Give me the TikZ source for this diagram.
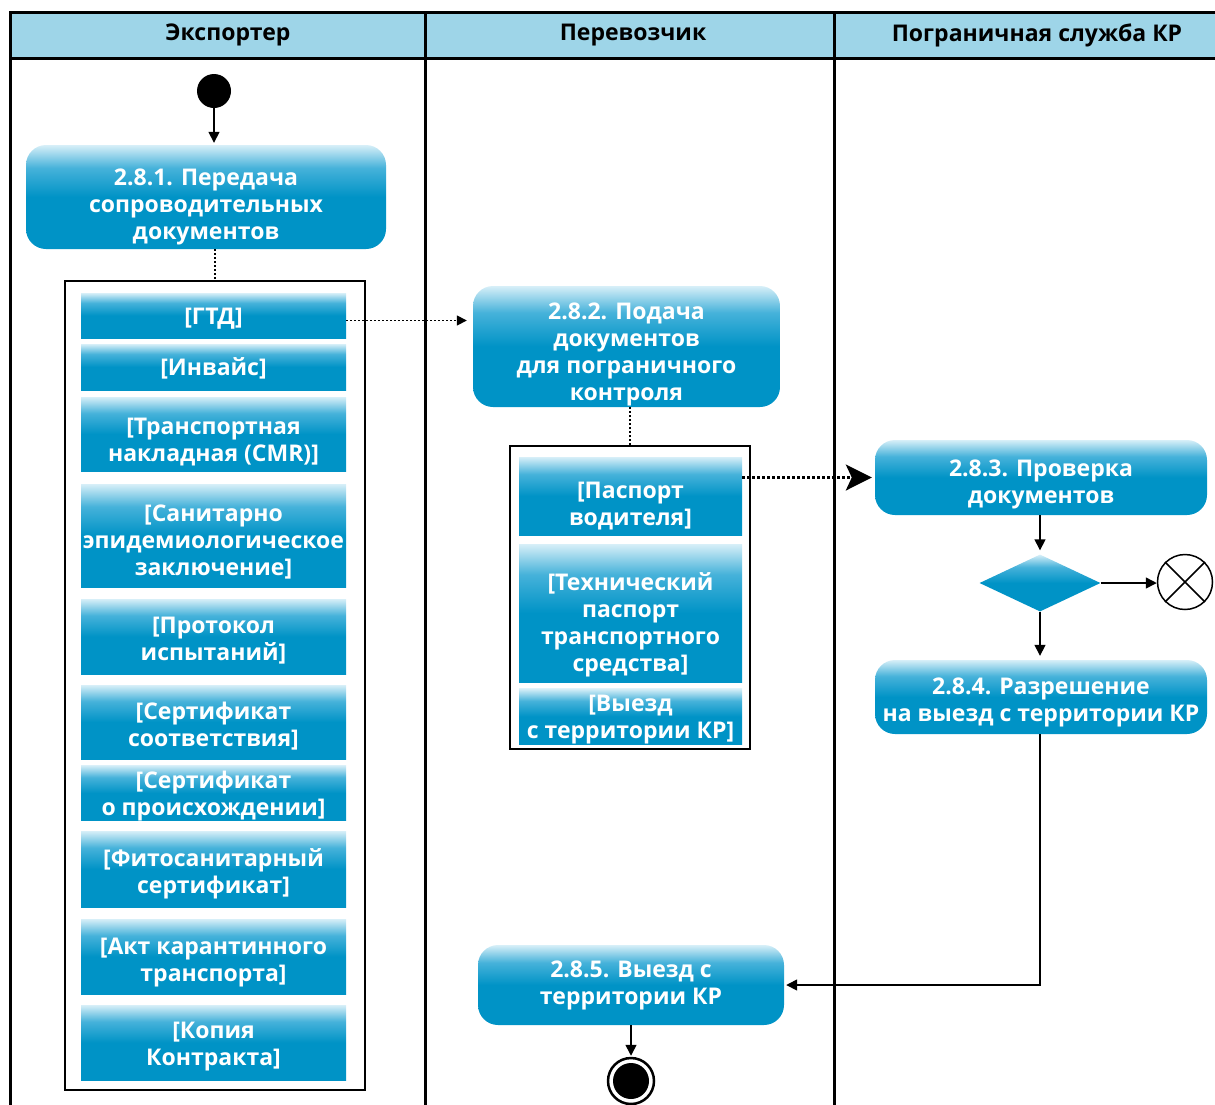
\documentclass[tikz,border=0pt]{standalone}
\usepackage{fontspec}
\setmainfont{Open Sans}
\usetikzlibrary{arrows.meta,shapes.geometric}
\definecolor{bdark}{RGB}{0,147,198}
\definecolor{bmid}{RGB}{70,178,218}
\definecolor{blight}{RGB}{215,239,248}
\definecolor{hdr}{RGB}{158,213,232}
\pgfdeclareverticalshading{boxshade}{100bp}{color(0bp)=(bdark); color(25bp)=(bdark); color(50bp)=(bdark); color(64bp)=(bmid); color(75bp)=(blight); color(100bp)=(blight)}
\newcommand\sh[1]{\rule{0pt}{\dimexpr17pt+#1pt*2\relax}}
\tikzset{
  act/.style={shading=boxshade, rounded corners=20pt, draw=none, text=white,
    font=\bfseries\fontsize{23}{27}\selectfont, align=center, inner sep=0pt},
  doc/.style={shading=boxshade, draw=none, text=white,
    font=\bfseries\fontsize{23}{27}\selectfont, align=center, inner sep=0pt, minimum width=265pt},
  doc2/.style={doc, minimum width=223pt},
  cont/.style={draw=black, line width=1.5pt, fill=none, inner sep=0pt},
  lane/.style={line width=3pt},
  hdrtext/.style={font=\bfseries\fontsize{23}{27}\selectfont, text=black},
  flow/.style={line width=1.5pt, -{Triangle[width=11pt,length=11pt]}},
  dotl/.style={line width=1.5pt, dash pattern=on 2pt off 2pt},
  dotarr/.style={dotl, -{Triangle[width=10pt,length=10pt]}},
  bigdot/.style={line width=2.6pt, dash pattern=on 2.6pt off 2.4pt, -{Stealth[width=26pt,length=26pt,inset=6pt]}},
}
\begin{document}
\begin{tikzpicture}[x=1pt,y=-1pt]
\useasboundingbox (0,0) rectangle (1215,1104);
% swimlane frame
\fill[hdr] (10,12) rectangle (1220,58);
\draw[lane] (1220,12) -- (10,12) -- (10,1110);
\draw[lane] (10,58) -- (1220,58);
\draw[lane] (425,12) -- (425,1110);
\draw[lane] (834,12) -- (834,1110);
\node[hdrtext] (h1) at (228,35) {Экспортер};
\node[hdrtext] (h2) at (633,35) {Перевозчик};
\node[hdrtext] (h3) at (1037,35) {Пограничная служба КР};

% Exporter lane
\node[circle, fill=black, minimum size=34pt, inner sep=0pt] (start) at (214,91) {};
\node[act, minimum width=360pt, minimum height=104pt] (b281) at (206,197) {\sh{10}2.8.1. Передача\\сопроводительных\\документов};
\node[cont, minimum width=300pt, minimum height=809pt] (c1) at (215,685.5) {};
\node[doc, minimum height=45pt] (gtd) at (213.5,315.5) {\sh{3}[ГТД]};
\node[doc, minimum height=46pt] (inv) at (213.5,367) {\sh{2}[Инвайс]};
\node[doc, minimum height=74pt] (cmr) at (213.5,434) {\sh{8}[Транспортная\\накладная (CMR)]};
\node[doc, minimum height=103pt] (san) at (213.5,535.5) {\sh{6}[Санитарно\\эпидемиологическое\\заключение]};
\node[doc, minimum height=75pt] (prot) at (213.5,636.5) {\sh{4}[Протокол\\испытаний]};
\node[doc, minimum height=74pt] (certs) at (213.5,722) {\sh{4}[Сертификат\\соответствия]};
\node[doc, minimum height=52pt] (certo) at (213.5,793) {\sh{3}[Сертификат\\о происхождении]};
\node[doc, minimum height=76pt] (fito) at (213.5,869) {\sh{5}[Фитосанитарный\\сертификат]};
\node[doc, minimum height=75pt] (akt) at (213.5,956.5) {\sh{6}[Акт карантинного\\транспорта]};
\node[doc, minimum height=75pt] (kop) at (213.5,1042.5) {\sh{4}[Копия\\Контракта]};

% Carrier lane
\node[act, minimum width=307pt, minimum height=121pt] (b282) at (626.5,346.5) {\sh{8}2.8.2. Подача\\документов\\для пограничного\\контроля};
\node[cont, minimum width=240pt, minimum height=303pt] (c2) at (630,597.5) {};
\node[doc2, minimum height=78pt] (pas) at (630.5,496) {\sh{10}[Паспорт\\водителя]};
\node[doc2, minimum height=138pt] (tech) at (630.5,613) {\sh{12}[Технический\\паспорт\\транспортного\\средства]};
\node[doc2, minimum height=55pt] (vyezd) at (630.5,716.5) {\sh{3}[Выезд\\с территории КР]};
\node[act, minimum width=306pt, minimum height=80pt] (b285) at (631,985) {2.8.5. Выезд с\\территории КР};
\node[circle, draw=black, line width=2.5pt, fill=white, minimum size=46pt, inner sep=0pt] (fin) at (631,1081) {};
\node[circle, fill=black, minimum size=36pt, inner sep=0pt] (fincore) at (631,1081) {};

% Border lane
\node[act, minimum width=332pt, minimum height=75pt] (b283) at (1041,477.5) {\sh{7}2.8.3. Проверка\\документов};
\node[diamond, shading=boxshade, draw=none, minimum width=121pt, minimum height=57pt, inner sep=0pt, aspect=2.1] (dia) at (1040,583) {};
\node[circle, draw=black, line width=1.5pt, fill=white, minimum size=55pt, inner sep=0pt] (ff) at (1185,582) {};
\draw[line width=1.5pt] (ff.north east) -- (ff.south west) (ff.north west) -- (ff.south east);
\node[act, minimum width=332pt, minimum height=74pt] (b284) at (1041,697) {\sh{5}2.8.4. Разрешение\\на выезд с территории КР};

% connectors
\draw[flow, shorten >=2pt] (start) -- (start |- b281.north);
\draw[dotl] (b281.south -| c1.north) -- (c1.north);
\draw[dotarr, shorten >=6pt] ([yshift=-5pt]gtd.east) -- ([yshift=-5pt]gtd.east -| b282.west);
\draw[dotl] (b282.south -| c2.north) -- (c2.north);
\draw[bigdot, shorten >=3pt] (pas.east |- b283.west) -- (b283.west);
\draw[flow, shorten >=4pt] (b283.south -| dia.north) -- (dia.north);
\draw[flow] (dia.east) -- (dia.east -| ff.west);
\draw[flow, shorten >=4pt] (dia.south) -- (dia.south |- b284.north);
\draw[flow, shorten >=2pt] (b284.south -| dia.south) |- (b285.east);
\draw[flow, shorten >=1pt] (b285.south) -- (fin.north);
\end{tikzpicture}
\end{document}
